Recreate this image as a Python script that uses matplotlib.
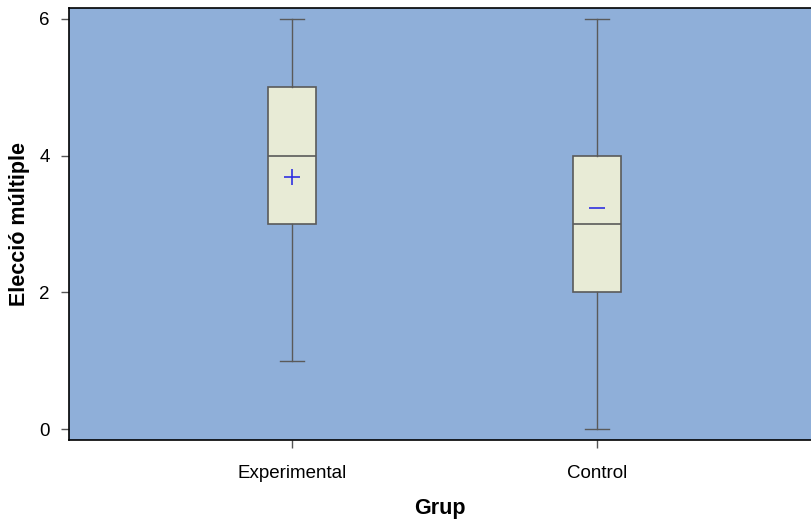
import matplotlib
matplotlib.use("Agg")
import matplotlib.pyplot as plt

plt.rcParams['font.family'] = ['Liberation Sans', 'DejaVu Sans']

groups = ["Experimental", "Control"]
whislo = [1, 0]
q1 = [3, 2]
med = [4, 3]
q3 = [5, 4]
whishi = [6, 6]
means = [3.69, 3.24]
mean_markers = ['+', '_']
yticks = [0, 2, 4, 6]

fig = plt.figure(figsize=(8.11, 5.19), dpi=100)
ax = fig.add_axes([69/811, 79/519, 1 - 69/811, (440-8)/519])
ax.set_facecolor('#8FAFD9')

stats = []
for i, g in enumerate(groups):
    stats.append(dict(label=g, whislo=whislo[i], q1=q1[i], med=med[i], q3=q3[i],
                      whishi=whishi[i], fliers=[]))
positions = [1, 2]
edge = '#5a5a5a'
ax.bxp(stats, positions=positions, widths=0.157, patch_artist=True, showfliers=False,
       boxprops=dict(facecolor='#E8EBD6', edgecolor=edge, linewidth=1.2),
       medianprops=dict(color=edge, linewidth=1.2),
       whiskerprops=dict(color=edge, linewidth=1.0),
       capprops=dict(color=edge, linewidth=1.0),
       capwidths=0.078)
for p, m, mk in zip(positions, means, mean_markers):
    ax.plot([p], [m], marker=mk, color='#3030E0', markersize=11, markeredgewidth=1.2, linestyle='none')

ax.set_xlim(0.269, 2.70)
ax.set_ylim(-0.16, 6.16)
ax.set_yticks(yticks)
ax.set_yticklabels([str(t) for t in yticks])
ax.set_xticks(positions)
ax.set_xticklabels(groups)
for s in ['top', 'left', 'bottom']:
    ax.spines[s].set_color('black')
    ax.spines[s].set_linewidth(1.2)
ax.spines['right'].set_visible(False)
ax.tick_params(axis='both', direction='out', length=6, width=1.0, color='#555555', labelsize=13.5)
ax.tick_params(axis='x', pad=12)
ax.tick_params(axis='y', pad=8)
ax.set_xlabel('Grup', fontsize=15.5, fontweight='bold', labelpad=11.5)
ax.set_ylabel('Elecció múltiple', fontsize=15.5, fontweight='bold', labelpad=6.5)

fig.savefig('out.png', dpi=100)
